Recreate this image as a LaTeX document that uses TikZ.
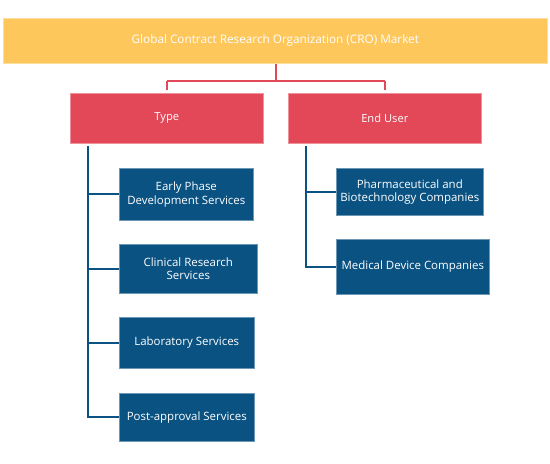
\documentclass[tikz,border=0pt]{standalone}
\usepackage{fontspec}
\setmainfont{Open Sans}
\definecolor{topyellow}{HTML}{FDC75B}
\definecolor{catred}{HTML}{E24857}
\definecolor{leafblue}{HTML}{0A5282}
\tikzset{
  topbox/.style={fill=topyellow, draw=topyellow!60!white, line width=0.6bp, text=white, anchor=north west, inner sep=0pt, font=\fontsize{11.8}{14}\selectfont},
  catbox/.style={fill=catred, draw=catred!60!white, line width=0.6bp, text=white, anchor=north west, inner sep=0pt, font=\fontsize{11.2}{14}\selectfont},
  leafbox/.style={fill=leafblue, draw=leafblue!60!white, line width=0.6bp, text=white, anchor=north west, inner sep=0pt, align=center, font=\fontsize{11.5}{13.5}\selectfont},
  redline/.style={draw=catred, line width=2bp},
  blueline/.style={draw=leafblue, line width=2bp},
}
\begin{document}
\begin{tikzpicture}[x=1bp, y=-1bp]
\useasboundingbox (0,0) rectangle (550,464);
\node[topbox, minimum width=544bp, minimum height=45bp] (top) at (3,18) {Global Contract Research Organization (CRO) Market};
\node[catbox, minimum width=193bp, minimum height=50bp] (type) at (70,93) {Type};
\node[catbox, minimum width=193bp, minimum height=50bp] (user) at (288,93) {End User};
\node[leafbox, minimum width=134bp, minimum height=52bp] (early) at (119,168) {Early Phase\\Development Services};
\node[leafbox, minimum width=138bp, minimum height=49bp] (clin) at (119,244) {Clinical Research\\Services};
\node[leafbox, minimum width=135bp, minimum height=51bp] (lab) at (119,317) {Laboratory Services};
\node[leafbox, minimum width=135bp, minimum height=48bp] (post) at (119,393) {Post-approval Services};
\node[leafbox, minimum width=147bp, minimum height=47bp] (pharma) at (336,168) {Pharmaceutical and\\Biotechnology Companies};
\node[leafbox, minimum width=153bp, minimum height=55bp] (med) at (336,239) {Medical Device Companies};
% red connectors
\coordinate (tj) at (276,81);
\draw[redline] (top.south -| tj) -- (tj);
\draw[redline] (tj -| type.north) -- (tj -| user.north);
\draw[redline] (tj -| type.north) -- ++(0,9);
\draw[redline] (tj -| user.north) -- ++(0,9);
% blue connectors left
\coordinate (ls) at (88,146);
\draw[blueline] (ls) -- (ls |- post.west) -- (post.west);
\draw[blueline] (ls |- early.west) -- (early.west);
\draw[blueline] (ls |- clin.west) -- (clin.west);
\draw[blueline] (ls |- lab.west) -- (lab.west);
% blue connectors right
\coordinate (rs) at (306,146);
\draw[blueline] (rs) -- (rs |- med.west) -- (med.west);
\draw[blueline] (rs |- pharma.west) -- (pharma.west);
\end{tikzpicture}
\end{document}
